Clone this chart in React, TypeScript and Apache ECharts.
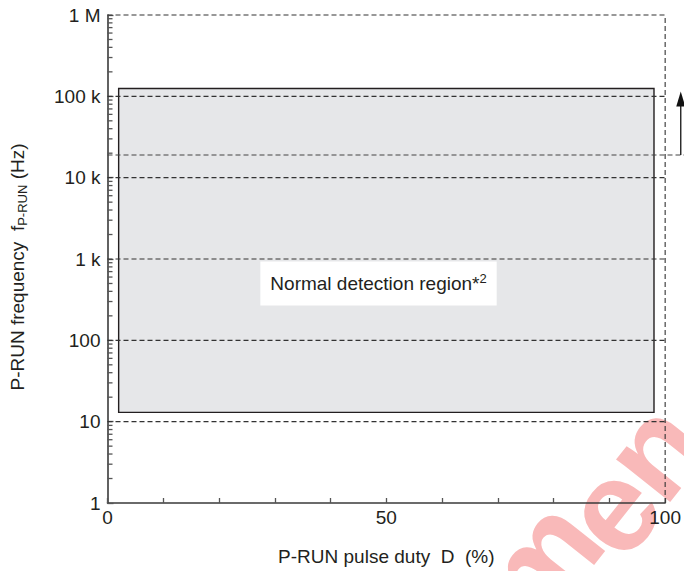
import React, { useEffect, useRef } from "react";
import * as echarts from "echarts";

// ---- data ----
const decadeValues = [1, 10, 100, 1000, 10000, 100000, 1000000];
const decadeLabels = ["1", "10", "100", "1 k", "10 k", "100 k", "1 M"];
const minorFreqTicks = [
  2, 3, 4, 5, 6, 7, 8, 9,
  20, 30, 40, 50, 60, 70, 80, 90,
  200, 300, 400, 500, 600, 700, 800, 900,
  2000, 3000, 4000, 5000, 6000, 7000, 8000, 9000,
  20000, 30000, 40000, 50000, 60000, 70000, 80000, 90000,
  200000, 300000, 400000, 500000, 600000, 700000, 800000, 900000,
];
const dutyLabelValues = [0, 50, 100];
const gridFreqs = [10, 100, 1000, 10000, 100000, 1000000];
const regionDuty = [2, 98];
const regionFreq = [13, 125000];
const limitFreq = 19000;
const arrowFreqTop = 115000;
const arrowDuty = 102.8;
const limitLineEndDuty = 103.5;
const labelPos = [48.6, 500];
const watermarkLetters = ["m", "e", "n"];

const FONT = "'Liberation Sans', Arial, Helvetica, sans-serif";
const INK = "#231f20";

export default function App() {
  const ref = useRef<HTMLDivElement>(null);
  useEffect(() => {
    if (!ref.current) return;
    const chart = echarts.init(ref.current, null, { renderer: "svg" });
    const dash = [5, 3];
    const wmAnchors = [
      [539, 562],
      [611, 509],
      [654, 450],
    ];
    chart.setOption({
      animation: false,
      backgroundColor: "#ffffff",
      textStyle: { fontFamily: FONT },
      grid: { left: 99, top: 15, width: 568, height: 494, containLabel: false },
      xAxis: {
        type: "value",
        min: 0,
        max: 100,
        interval: 10,
        name: "P-RUN pulse duty  D  (%)",
        nameLocation: "middle",
        nameGap: 44,
        nameTextStyle: { fontSize: 19, color: INK, fontFamily: FONT },
        axisLine: { show: true, lineStyle: { color: "#3a3a3a", width: 1.6 } },
        axisTick: { show: true, inside: true, length: 5, lineStyle: { color: "#555", width: 1.3 } },
        axisLabel: {
          fontSize: 19,
          color: INK,
          fontFamily: FONT,
          margin: 5,
          formatter: (v: number) => (dutyLabelValues.indexOf(v) >= 0 ? String(v) : ""),
        },
        splitLine: { show: false },
      },
      yAxis: {
        type: "log",
        logBase: 10,
        min: 1,
        max: 1000000,
        splitNumber: 5,
        name: "P-RUN frequency  f{sub|P-RUN} (Hz)",
        nameLocation: "middle",
        nameGap: 79,
        nameTextStyle: {
          fontSize: 19,
          color: INK,
          fontFamily: FONT,
          padding: [0, 16, 0, 0],
          rich: {
            sub: { fontSize: 13, color: INK, fontFamily: FONT, padding: [9, 0, 0, 0] },
          },
        },
        axisLine: { show: true, lineStyle: { color: "#3a3a3a", width: 1.6 } },
        axisTick: { show: true, inside: true, length: 6, lineStyle: { color: "#555", width: 1.3 } },
        axisLabel: {
          fontSize: 19,
          color: INK,
          fontFamily: FONT,
          margin: 7,
          formatter: (v: number) => {
            const i = decadeValues.findIndex((d) => Math.abs(d - v) / d < 1e-6);
            return i >= 0 ? decadeLabels[i] : "";
          },
        },
        splitLine: { show: false },
      },
      series: [
        {
          type: "custom",
          name: "region",
          z: 1,
          silent: true,
          data: [[regionDuty[0], regionFreq[0], regionDuty[1], regionFreq[1]]],
          renderItem: (params: any, api: any) => {
            const tl = api.coord([api.value(0), api.value(3)]);
            const br = api.coord([api.value(2), api.value(1)]);
            return {
              type: "rect",
              shape: { x: tl[0], y: tl[1], width: br[0] - tl[0], height: br[1] - tl[1] },
              style: { fill: "#e6e7e9", stroke: INK, lineWidth: 1.4 },
            };
          },
        },
        {
          type: "custom",
          name: "minorTicks",
          z: 2,
          silent: true,
          clip: false,
          data: minorFreqTicks.map((f) => [0, f]),
          renderItem: (params: any, api: any) => {
            const p = api.coord([0, api.value(1)]);
            return {
              type: "line",
              shape: { x1: p[0], y1: p[1], x2: p[0] + 5, y2: p[1] },
              style: { stroke: "#555", lineWidth: 1.3 },
            };
          },
        },
        {
          type: "custom",
          name: "gridLines",
          z: 3,
          silent: true,
          clip: false,
          data: gridFreqs.map((f) => [0, f, 100]),
          renderItem: (params: any, api: any) => {
            const a = api.coord([api.value(0), api.value(1)]);
            const b = api.coord([api.value(2), api.value(1)]);
            return {
              type: "line",
              shape: { x1: a[0], y1: a[1], x2: b[0], y2: b[1] },
              style: { stroke: "#333", lineWidth: 1.1, lineDash: dash },
            };
          },
        },
        {
          type: "custom",
          name: "limitLine",
          z: 3,
          silent: true,
          clip: false,
          data: [[0, limitFreq, limitLineEndDuty]],
          renderItem: (params: any, api: any) => {
            const a = api.coord([api.value(0), api.value(1)]);
            const b = api.coord([api.value(2), api.value(1)]);
            return {
              type: "line",
              shape: { x1: a[0], y1: a[1], x2: b[0], y2: b[1] },
              style: { stroke: "#444", lineWidth: 1.1, lineDash: dash },
            };
          },
        },
        {
          type: "custom",
          name: "rightBorder",
          z: 3,
          silent: true,
          clip: false,
          data: [[100, 1, 1000000]],
          renderItem: (params: any, api: any) => {
            const a = api.coord([api.value(0), api.value(1)]);
            const b = api.coord([api.value(0), api.value(2)]);
            return {
              type: "line",
              shape: { x1: a[0], y1: a[1], x2: b[0], y2: b[1] },
              style: { stroke: "#333", lineWidth: 1.1, lineDash: dash },
            };
          },
        },
        {
          type: "custom",
          name: "arrow",
          z: 4,
          silent: true,
          clip: false,
          data: [[arrowDuty, limitFreq, arrowFreqTop]],
          renderItem: (params: any, api: any) => {
            const base = api.coord([api.value(0), api.value(1)]);
            const tip = api.coord([api.value(0), api.value(2)]);
            const headH = 15;
            const headW = 4.5;
            return {
              type: "group",
              children: [
                {
                  type: "line",
                  shape: { x1: base[0], y1: base[1], x2: tip[0], y2: tip[1] + headH - 2 },
                  style: { stroke: "#111", lineWidth: 1.3 },
                },
                {
                  type: "polygon",
                  shape: {
                    points: [
                      [tip[0], tip[1]],
                      [tip[0] - headW, tip[1] + headH],
                      [tip[0] + headW, tip[1] + headH],
                    ],
                  },
                  style: { fill: "#111" },
                },
              ],
            };
          },
        },
        {
          type: "custom",
          name: "label",
          z: 5,
          silent: true,
          clip: false,
          data: [labelPos],
          renderItem: (params: any, api: any) => {
            const c = api.coord([api.value(0), api.value(1)]);
            return {
              type: "text",
              x: c[0],
              y: c[1],
              style: {
                text: "Normal detection region*{sup|2}",
                fontSize: 19,
                fontFamily: FONT,
                fill: INK,
                align: "center",
                verticalAlign: "middle",
                backgroundColor: "#ffffff",
                padding: [11, 10, 11, 10],
                rich: {
                  sup: { fontSize: 13, fontFamily: FONT, fill: INK, padding: [0, 0, 9, 0] },
                },
              },
            };
          },
        },
      ],
      graphic: watermarkLetters.map((ch, i) => ({
        type: "text",
        x: wmAnchors[i][0],
        y: wmAnchors[i][1],
        rotation: 0.9,
        silent: true,
        z: -10,
        style: {
          text: ch,
          fontSize: 130,
          fontWeight: "bold",
          fontFamily: FONT,
          fill: "#f9b9b9",
          align: "center",
          verticalAlign: "middle",
        },
      })),
    });
    return () => chart.dispose();
  }, []);
  return <div ref={ref} style={{ width: 684, height: 571, position: "absolute", left: 0, top: 0 }} />;
}
